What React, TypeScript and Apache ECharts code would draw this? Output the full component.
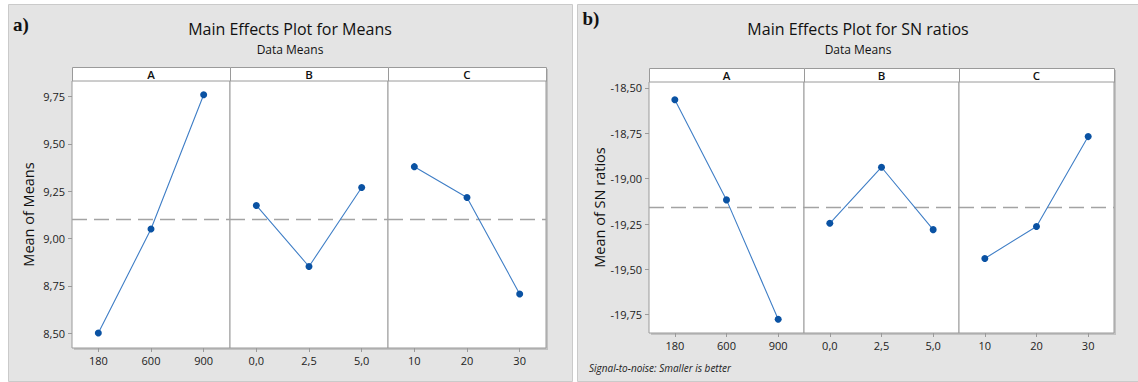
import React, { useEffect, useRef } from "react";
import * as echarts from "echarts";

// ---- data ----
const factorNames = ["A", "B", "C"];
const levelsA = ["180", "600", "900"];
const levelsB = ["0,0", "2,5", "5,0"];
const levelsC = ["10", "20", "30"];

const meansA = [8.5, 9.05, 9.76];
const meansB = [9.175, 8.852, 9.27];
const meansC = [9.38, 9.217, 8.707];
const meansGrand = 9.1;
const meansTicks = [8.5, 8.75, 9.0, 9.25, 9.5, 9.75];

const snA = [-18.565, -19.117, -19.775];
const snB = [-19.246, -18.937, -19.281];
const snC = [-19.44, -19.264, -18.768];
const snGrand = -19.155;
const snTicks = [-19.75, -19.5, -19.25, -19.0, -18.75, -18.5];

const FONT = "'Open Sans', 'Noto Sans', sans-serif";
const fmt = (v: number) => v.toFixed(2).replace(".", ",");

type Panel = {
  left: number[];
  headerTop: number;
  plotTop: number;
  plotBottom: number;
  yMin: number;
  yMax: number;
  ticks: number[];
  yName: string;
  yNameGap: number;
  series: number[][];
  levels: string[][];
  grand: number;
};

const panels: Panel[] = [
  {
    left: [72, 230, 388, 546],
    headerTop: 67,
    plotTop: 81,
    plotBottom: 348,
    yMin: 8.421,
    yMax: 9.833,
    ticks: meansTicks,
    yName: "Mean of Means",
    yNameGap: 36,
    series: [meansA, meansB, meansC],
    levels: [levelsA, levelsB, levelsC],
    grand: meansGrand,
  },
  {
    left: [649, 804, 959, 1114],
    headerTop: 68,
    plotTop: 82,
    plotBottom: 333,
    yMin: -19.851,
    yMax: -18.467,
    ticks: snTicks,
    yName: "Mean of SN ratios",
    yNameGap: 42,
    series: [snA, snB, snC],
    levels: [levelsA, levelsB, levelsC],
    grand: snGrand,
  },
];

function buildOption() {
  const grid: any[] = [];
  const xAxis: any[] = [];
  const yAxis: any[] = [];
  const series: any[] = [];
  const graphic: any[] = [];

  graphic.push({
    type: "rect", z: -20,
    shape: { x: 8.5, y: 4.5, width: 564, height: 377 },
    style: { fill: "#e4e4e4", stroke: "#cacaca", lineWidth: 1 },
  });
  graphic.push({
    type: "rect", z: -20,
    shape: { x: 577.5, y: 4.5, width: 562, height: 377 },
    style: { fill: "#e4e4e4", stroke: "#cacaca", lineWidth: 1 },
  });
  graphic.push({
    type: "text", z: 10, x: 21, y: 24,
    style: { text: "a)", font: "bold 19px 'Liberation Serif', 'Times New Roman', serif", fill: "#111", textAlign: "center", textVerticalAlign: "middle" },
  });
  graphic.push({
    type: "text", z: 10, x: 591, y: 18,
    style: { text: "b)", font: "bold 19px 'Liberation Serif', 'Times New Roman', serif", fill: "#111", textAlign: "center", textVerticalAlign: "middle" },
  });
  const titles = [
    { t: "Main Effects Plot for Means", cx: 290 },
    { t: "Main Effects Plot for SN ratios", cx: 858 },
  ];
  titles.forEach((tt) => {
    graphic.push({
      type: "text", z: 10, x: tt.cx, y: 28.5,
      style: { text: tt.t, font: `500 16px ${FONT}`, fill: "#111", textAlign: "center", textVerticalAlign: "middle" },
    });
    graphic.push({
      type: "text", z: 10, x: tt.cx, y: 49,
      style: { text: "Data Means", font: `500 12px ${FONT}`, fill: "#111", textAlign: "center", textVerticalAlign: "middle" },
    });
  });
  graphic.push({
    type: "text", z: 10, x: 589, y: 368,
    style: { text: "Signal-to-noise: Smaller is better", font: `italic 10px ${FONT}`, fill: "#222", textAlign: "left", textVerticalAlign: "middle" },
  });

  panels.forEach((p) => {
    const x0 = p.left[0];
    const x3 = p.left[3];
    graphic.push({
      type: "rect", z: -15,
      shape: { x: x0 + 2, y: p.headerTop + 2, width: x3 - x0, height: p.plotBottom - p.headerTop },
      style: { fill: "#c2c2c2" },
    });
    for (let k = 0; k < 3; k++) {
      const l = p.left[k];
      const r = p.left[k + 1];
      graphic.push({
        type: "rect", z: -5,
        shape: { x: l + 0.5, y: p.headerTop + 0.5, width: r - l, height: p.plotTop - p.headerTop },
        style: { fill: "#ffffff", stroke: "#9a9a9a", lineWidth: 1 },
      });
      graphic.push({
        type: "text", z: 10, x: (l + r) / 2, y: (p.headerTop + p.plotTop) / 2 + 0.5,
        style: { text: factorNames[k], font: `600 11.5px ${FONT}`, fill: "#111", textAlign: "center", textVerticalAlign: "middle" },
      });

      const gi = grid.length;
      grid.push({
        left: l, top: p.plotTop, width: r - l, height: p.plotBottom - p.plotTop,
        show: true, backgroundColor: "#ffffff", borderColor: "#9a9a9a", borderWidth: 1,
        containLabel: false,
      });
      xAxis.push({
        type: "category", gridIndex: gi, data: p.levels[k], boundaryGap: true,
        axisLine: { show: false },
        axisTick: { show: true, alignWithLabel: true, length: 4, lineStyle: { color: "#9a9a9a" } },
        axisLabel: { margin: 7, fontSize: 11, fontFamily: FONT, color: "#222" },
        splitLine: { show: false },
      });
      yAxis.push({
        type: "value", gridIndex: gi, min: p.yMin, max: p.yMax, scale: true,
        show: k === 0,
        name: k === 0 ? p.yName : "",
        nameLocation: "middle", nameRotate: 90, nameGap: p.yNameGap,
        nameTextStyle: { fontSize: 14.5, fontWeight: 500, fontFamily: FONT, color: "#111" },
        axisLine: { show: false },
        axisTick: { show: true, length: 4, lineStyle: { color: "#9a9a9a" }, customValues: p.ticks },
        axisLabel: { margin: 7, fontSize: 11, fontFamily: FONT, color: "#222", formatter: fmt, customValues: p.ticks },
        splitLine: { show: false },
      });
      series.push({
        type: "line", xAxisIndex: gi, yAxisIndex: gi, data: p.series[k],
        symbol: "circle", symbolSize: 7,
        lineStyle: { color: "#3f7ec6", width: 1.1 },
        itemStyle: { color: "#0a52a3" },
        z: 5,
        markLine: {
          silent: true, symbol: "none", animation: false,
          label: { show: false },
          lineStyle: { color: "#a3a3a3", type: [15, 7], width: 1.4 },
          data: [{ yAxis: p.grand }],
          z: 3,
        },
      });
    }
  });

  return { animation: false, backgroundColor: "#ffffff", grid, xAxis, yAxis, series, graphic };
}

export default function App() {
  const ref = useRef<HTMLDivElement>(null);
  useEffect(() => {
    document.body.style.margin = "0";
    if (!ref.current) return;
    const chart = echarts.init(ref.current, undefined, { renderer: "svg" });
    chart.setOption(buildOption() as any);
    return () => chart.dispose();
  }, []);
  return <div ref={ref} style={{ width: 1138, height: 382 }} />;
}
